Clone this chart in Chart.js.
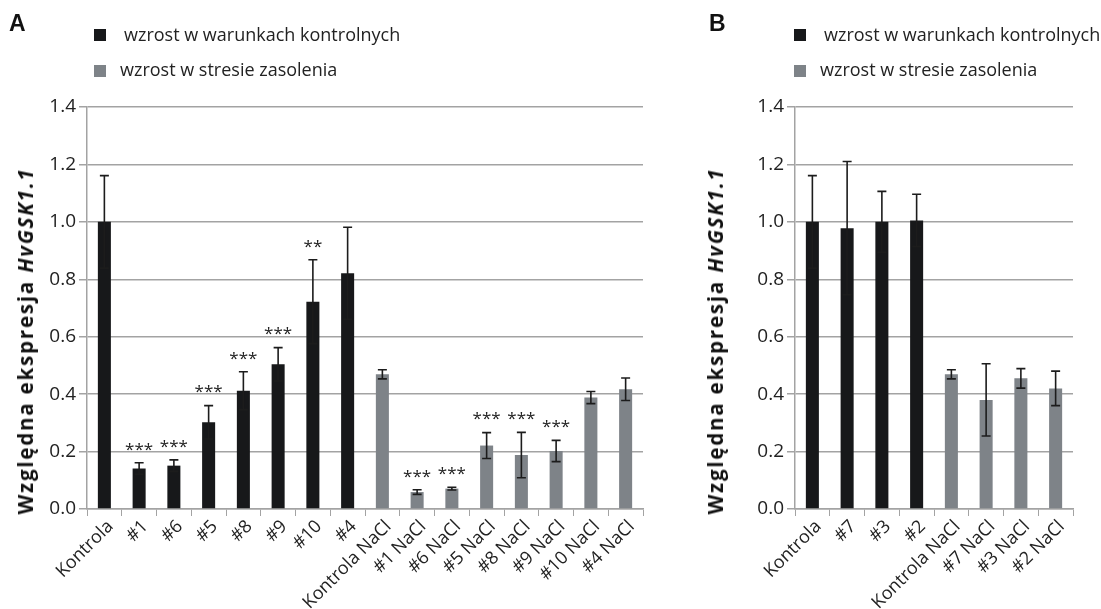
<!DOCTYPE html>
<html>
<head>
<meta charset="utf-8">
<script src="https://cdn.jsdelivr.net/npm/chart.js@4.4.1/dist/chart.umd.min.js"></script>
<style>
  html, body { margin:0; padding:0; background:#fff; width:1101px; height:609px; overflow:hidden; }
  .panel { position:absolute; top:0; height:609px; }
  .letter { position:absolute; font-family:"Liberation Sans", Arial, sans-serif; font-weight:bold; font-size:23px; color:#111; }
  .legend { position:absolute; font-family:"Open Sans", sans-serif; font-size:18px; color:#222; }
  .legend .row { position:absolute; white-space:nowrap; line-height:24px; }
  .legend .sq { position:absolute; width:12px; height:12px; }
  .ytitle { position:absolute; white-space:nowrap; font-family:"Open Sans", sans-serif; font-weight:bold; font-size:20.5px; letter-spacing:1.8px; color:#111;
            transform: translate(-50%,-50%) rotate(-90deg); }
</style>
</head>
<body>
<div class="panel" id="pA" style="left:0;width:690px;">
  <canvas id="cA" width="690" height="609"></canvas>
</div>
<div class="panel" id="pB" style="left:700px;width:401px;">
  <canvas id="cB" width="401" height="609"></canvas>
</div>
<div id="overlay"></div>
<script>
// ---------------- DATA ----------------
const legendLabels = ['wzrost w warunkach kontrolnych', 'wzrost w stresie zasolenia'];
const yTitleMain = 'Względna ekspresja ';
const yTitleGene = 'HvGSK1.1';
const yTicks = [0, 0.2, 0.4, 0.6, 0.8, 1.0, 1.2, 1.4];

const catsA = ['Kontrola','#1','#6','#5','#8','#9','#10','#4','Kontrola NaCl','#1 NaCl','#6 NaCl','#5 NaCl','#8 NaCl','#9 NaCl','#10 NaCl','#4 NaCl'];
const ctrlA = [1.00, 0.141, 0.151, 0.302, 0.412, 0.504, 0.722, 0.821, null, null, null, null, null, null, null, null];
const saltA = [null, null, null, null, null, null, null, null, 0.469, 0.059, 0.071, 0.221, 0.188, 0.202, 0.388, 0.417];
const errA  = [0.161, 0.020, 0.020, 0.058, 0.066, 0.058, 0.146, 0.160, 0.016, 0.008, 0.005, 0.045, 0.079, 0.037, 0.021, 0.039];
const sigA  = ['', '***', '***', '***', '***', '***', '**', '', '', '***', '***', '***', '***', '***', '', ''];

const catsB = ['Kontrola','#7','#3','#2','Kontrola NaCl','#7 NaCl','#3 NaCl','#2 NaCl'];
const ctrlB = [1.00, 0.978, 1.00, 1.005, null, null, null, null];
const saltB = [null, null, null, null, 0.469, 0.380, 0.455, 0.420];
const errB  = [0.161, 0.232, 0.106, 0.091, 0.016, 0.126, 0.034, 0.060];
const sigB  = ['', '', '', '', '', '', '', ''];

// ---------------- STYLE ----------------
const BLACK = '#17181a';
const GRAY = '#7e8388';
const GRID = '#a3a3a3';
const TXT = '#222';

const errPlugin = {
  id: 'errbars',
  afterDatasetsDraw(chart, args, opts) {
    const ctx = chart.ctx, ys = chart.scales.y;
    const errs = opts.errs, sig = opts.sig;
    ctx.save();
    chart.data.datasets.forEach((ds, di) => {
      const meta = chart.getDatasetMeta(di);
      meta.data.forEach((el, i) => {
        const v = ds.data[i];
        if (v === null || v === undefined) return;
        const e = errs[i];
        const x = el.x;
        const yt = ys.getPixelForValue(v + e);
        const yb = ys.getPixelForValue(v - e);
        ctx.strokeStyle = '#1c1c1c';
        ctx.lineWidth = 1.6;
        ctx.beginPath();
        ctx.moveTo(x, yt); ctx.lineTo(x, yb);
        ctx.moveTo(x - 4.5, yt); ctx.lineTo(x + 4.5, yt);
        ctx.moveTo(x - 4.5, yb); ctx.lineTo(x + 4.5, yb);
        ctx.stroke();
        if (sig[i]) {
          ctx.fillStyle = '#222';
          ctx.font = '17px "Open Sans", sans-serif';
          ctx.textAlign = 'center';
          ctx.textBaseline = 'middle';
          ctx.fillText(sig[i], x, yt - 13);
        }
      });
    });
    ctx.restore();
  }
};

function makeChart(id, cats, ctrl, salt, errs, sig, yWidth, padRight) {
  return new Chart(document.getElementById(id), {
    type: 'bar',
    data: {
      labels: cats,
      datasets: [
        { label: legendLabels[0], data: ctrl, backgroundColor: BLACK, barPercentage: 0.375, categoryPercentage: 1.0 },
        { label: legendLabels[1], data: salt, backgroundColor: GRAY, barPercentage: 0.375, categoryPercentage: 1.0 }
      ]
    },
    options: {
      responsive: false,
      animation: false,
      devicePixelRatio: 1,
      layout: { padding: { left: 0, right: padRight, top: 107, bottom: 0 } },
      plugins: { legend: { display: false }, tooltip: { enabled: false }, errbars: { errs: errs, sig: sig } },
      scales: {
        x: {
          stacked: true,
          afterFit(s) { s.height = 100; },
          grid: { display: true, drawOnChartArea: false, drawTicks: true, tickLength: 7, color: GRID, offset: true },
          border: { display: true, color: GRID, width: 1.5 },
          ticks: { color: TXT, font: { family: '"Open Sans", sans-serif', size: 18 }, maxRotation: 45, minRotation: 45, autoSkip: false, padding: 0, labelOffset: 6 }
        },
        y: {
          stacked: true,
          min: 0, max: 1.4,
          afterFit(s) { s.width = yWidth; },
          afterBuildTicks(s) { s.ticks = yTicks.map(v => ({ value: v })); },
          grid: { color: GRID, lineWidth: 1.5, drawTicks: true, tickLength: 8 },
          border: { display: true, color: GRID, width: 1.5 },
          ticks: { color: TXT, font: { family: '"Open Sans", sans-serif', size: 19 }, padding: 3, callback: v => Number(v).toFixed(1) }
        }
      }
    },
    plugins: [errPlugin]
  });
}

makeChart('cA', catsA, ctrlA, saltA, errA, sigA, 87, 47);
makeChart('cB', catsB, ctrlB, saltB, errB, sigB, 95, 28);

// ---------------- HTML overlays (letters, legend, axis titles) ----------------
function addOverlay(left, letter, sqX, titleX) {
  const ov = document.getElementById('overlay');
  const L = document.createElement('div');
  L.className = 'letter'; L.textContent = letter;
  L.style.left = (left + 9) + 'px'; L.style.top = '10px';
  ov.appendChild(L);
  const lg = document.createElement('div'); lg.className = 'legend';
  lg.style.left = (left + sqX) + 'px'; lg.style.top = '0px';
  [[BLACK, 29, 30, 22], [GRAY, 65, 26, 57]].forEach((r, i) => {
    const sq = document.createElement('div'); sq.className = 'sq';
    sq.style.background = r[0]; sq.style.left = '0px'; sq.style.top = r[1] + 'px';
    lg.appendChild(sq);
    const t = document.createElement('div'); t.className = 'row';
    t.textContent = legendLabels[i]; t.style.left = r[2] + 'px'; t.style.top = r[3] + 'px';
    lg.appendChild(t);
  });
  ov.appendChild(lg);
  const yt = document.createElement('div'); yt.className = 'ytitle';
  yt.style.left = (left + titleX) + 'px'; yt.style.top = '341px';
  const a = document.createElement('span'); a.textContent = yTitleMain;
  const b = document.createElement('i'); b.textContent = yTitleGene;
  yt.appendChild(a); yt.appendChild(b);
  ov.appendChild(yt);
}
addOverlay(0, 'A', 94, 25);
addOverlay(700, 'B', 94, 15);
</script>
</body>
</html>
